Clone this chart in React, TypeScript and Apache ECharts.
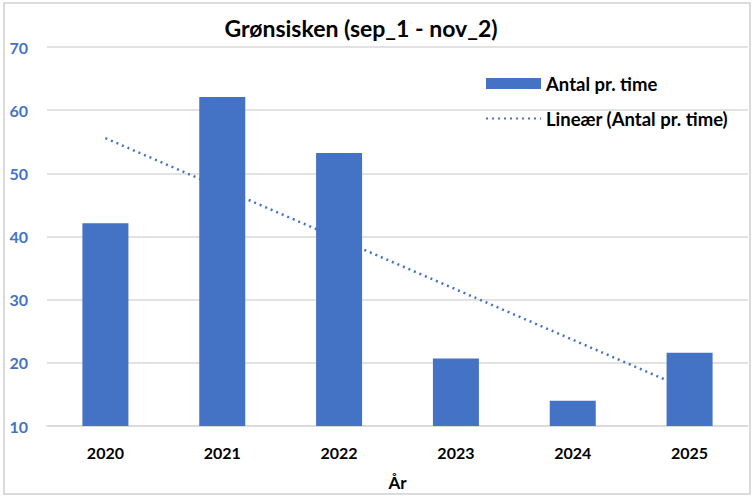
import React, { useEffect, useRef } from "react";
import * as echarts from "echarts";

const titleText = "Grønsisken (sep_1 - nov_2)";
const years = ["2020", "2021", "2022", "2023", "2024", "2025"];
const counts = [42.1, 62.1, 53.2, 20.7, 14.0, 21.6];
const barName = "Antal pr. time";
const trendName = "Lineær (Antal pr. time)";
const xAxisName = "År";
const yMin = 10;
const yMax = 70;
const yStep = 10;

// Linear (least squares) trend line of the bar values, as Excel draws it
function linearTrend(vals: number[]): number[] {
  const n = vals.length;
  const mx = (n - 1) / 2;
  const my = vals.reduce((a, b) => a + b, 0) / n;
  let num = 0;
  let den = 0;
  vals.forEach((v, i) => {
    num += (i - mx) * (v - my);
    den += (i - mx) * (i - mx);
  });
  const slope = num / den;
  return vals.map((_, i) => +(my + slope * (i - mx)).toFixed(2));
}

const FONT = "Lato, 'Open Sans', sans-serif";
const BLUE = "#4472C4";

export default function App() {
  const ref = useRef<HTMLDivElement>(null);
  useEffect(() => {
    document.body.style.margin = "0";
    const chart = echarts.init(ref.current!, null, { renderer: "svg" });
    chart.setOption({
      animation: false,
      backgroundColor: "#ffffff",
      title: {
        text: titleText,
        left: 356,
        top: 11,
        textAlign: "center",
        textStyle: { fontFamily: FONT, fontSize: 23, fontWeight: "bold", color: "#000" },
      },
      legend: {
        orient: "vertical",
        left: 480,
        top: 69,
        itemWidth: 55,
        itemHeight: 11,
        itemGap: 16,
        textStyle: { fontFamily: FONT, fontSize: 18.5, fontWeight: "bold", color: "#000" },
        data: [
          { name: barName, icon: "rect" },
          { name: trendName, itemStyle: { opacity: 0 } },
        ],
      },
      graphic: [
        {
          type: "rect",
          shape: { x: 4, y: 3, width: 746, height: 491 },
          style: { fill: "none", stroke: "#d0d0d0", lineWidth: 1.5 },
          z: -1,
        },
      ],
      grid: { left: 47, right: 8, top: 47, bottom: 74 },
      xAxis: {
        type: "category",
        data: years,
        name: xAxisName,
        nameLocation: "middle",
        nameGap: 48,
        nameTextStyle: { fontFamily: FONT, fontSize: 17, fontWeight: "bold", color: "#000" },
        axisLine: { lineStyle: { color: "#d9d9d9", width: 1.5 } },
        axisTick: { show: false },
        axisLabel: { fontFamily: FONT, fontSize: 16, fontWeight: "bold", color: "#000", margin: 18 },
      },
      yAxis: {
        type: "value",
        min: yMin,
        max: yMax,
        interval: yStep,
        axisLine: { show: false },
        axisTick: { show: false },
        splitLine: { lineStyle: { color: "#d9d9d9", width: 1.5 } },
        axisLabel: { fontFamily: FONT, fontSize: 16, fontWeight: "bold", color: BLUE, margin: 19 },
      },
      series: [
        {
          name: trendName,
          type: "line",
          data: linearTrend(counts),
          showSymbol: false,
          symbol: "none",
          z: 1,
          lineStyle: { color: BLUE, width: 2.5, type: [2, 4] },
          itemStyle: { color: BLUE },
        },
        {
          name: barName,
          type: "bar",
          data: counts,
          barWidth: 46,
          z: 2,
          itemStyle: { color: BLUE },
        },
      ],
    });
    return () => chart.dispose();
  }, []);
  return <div ref={ref} style={{ width: 756, height: 500 }} />;
}
